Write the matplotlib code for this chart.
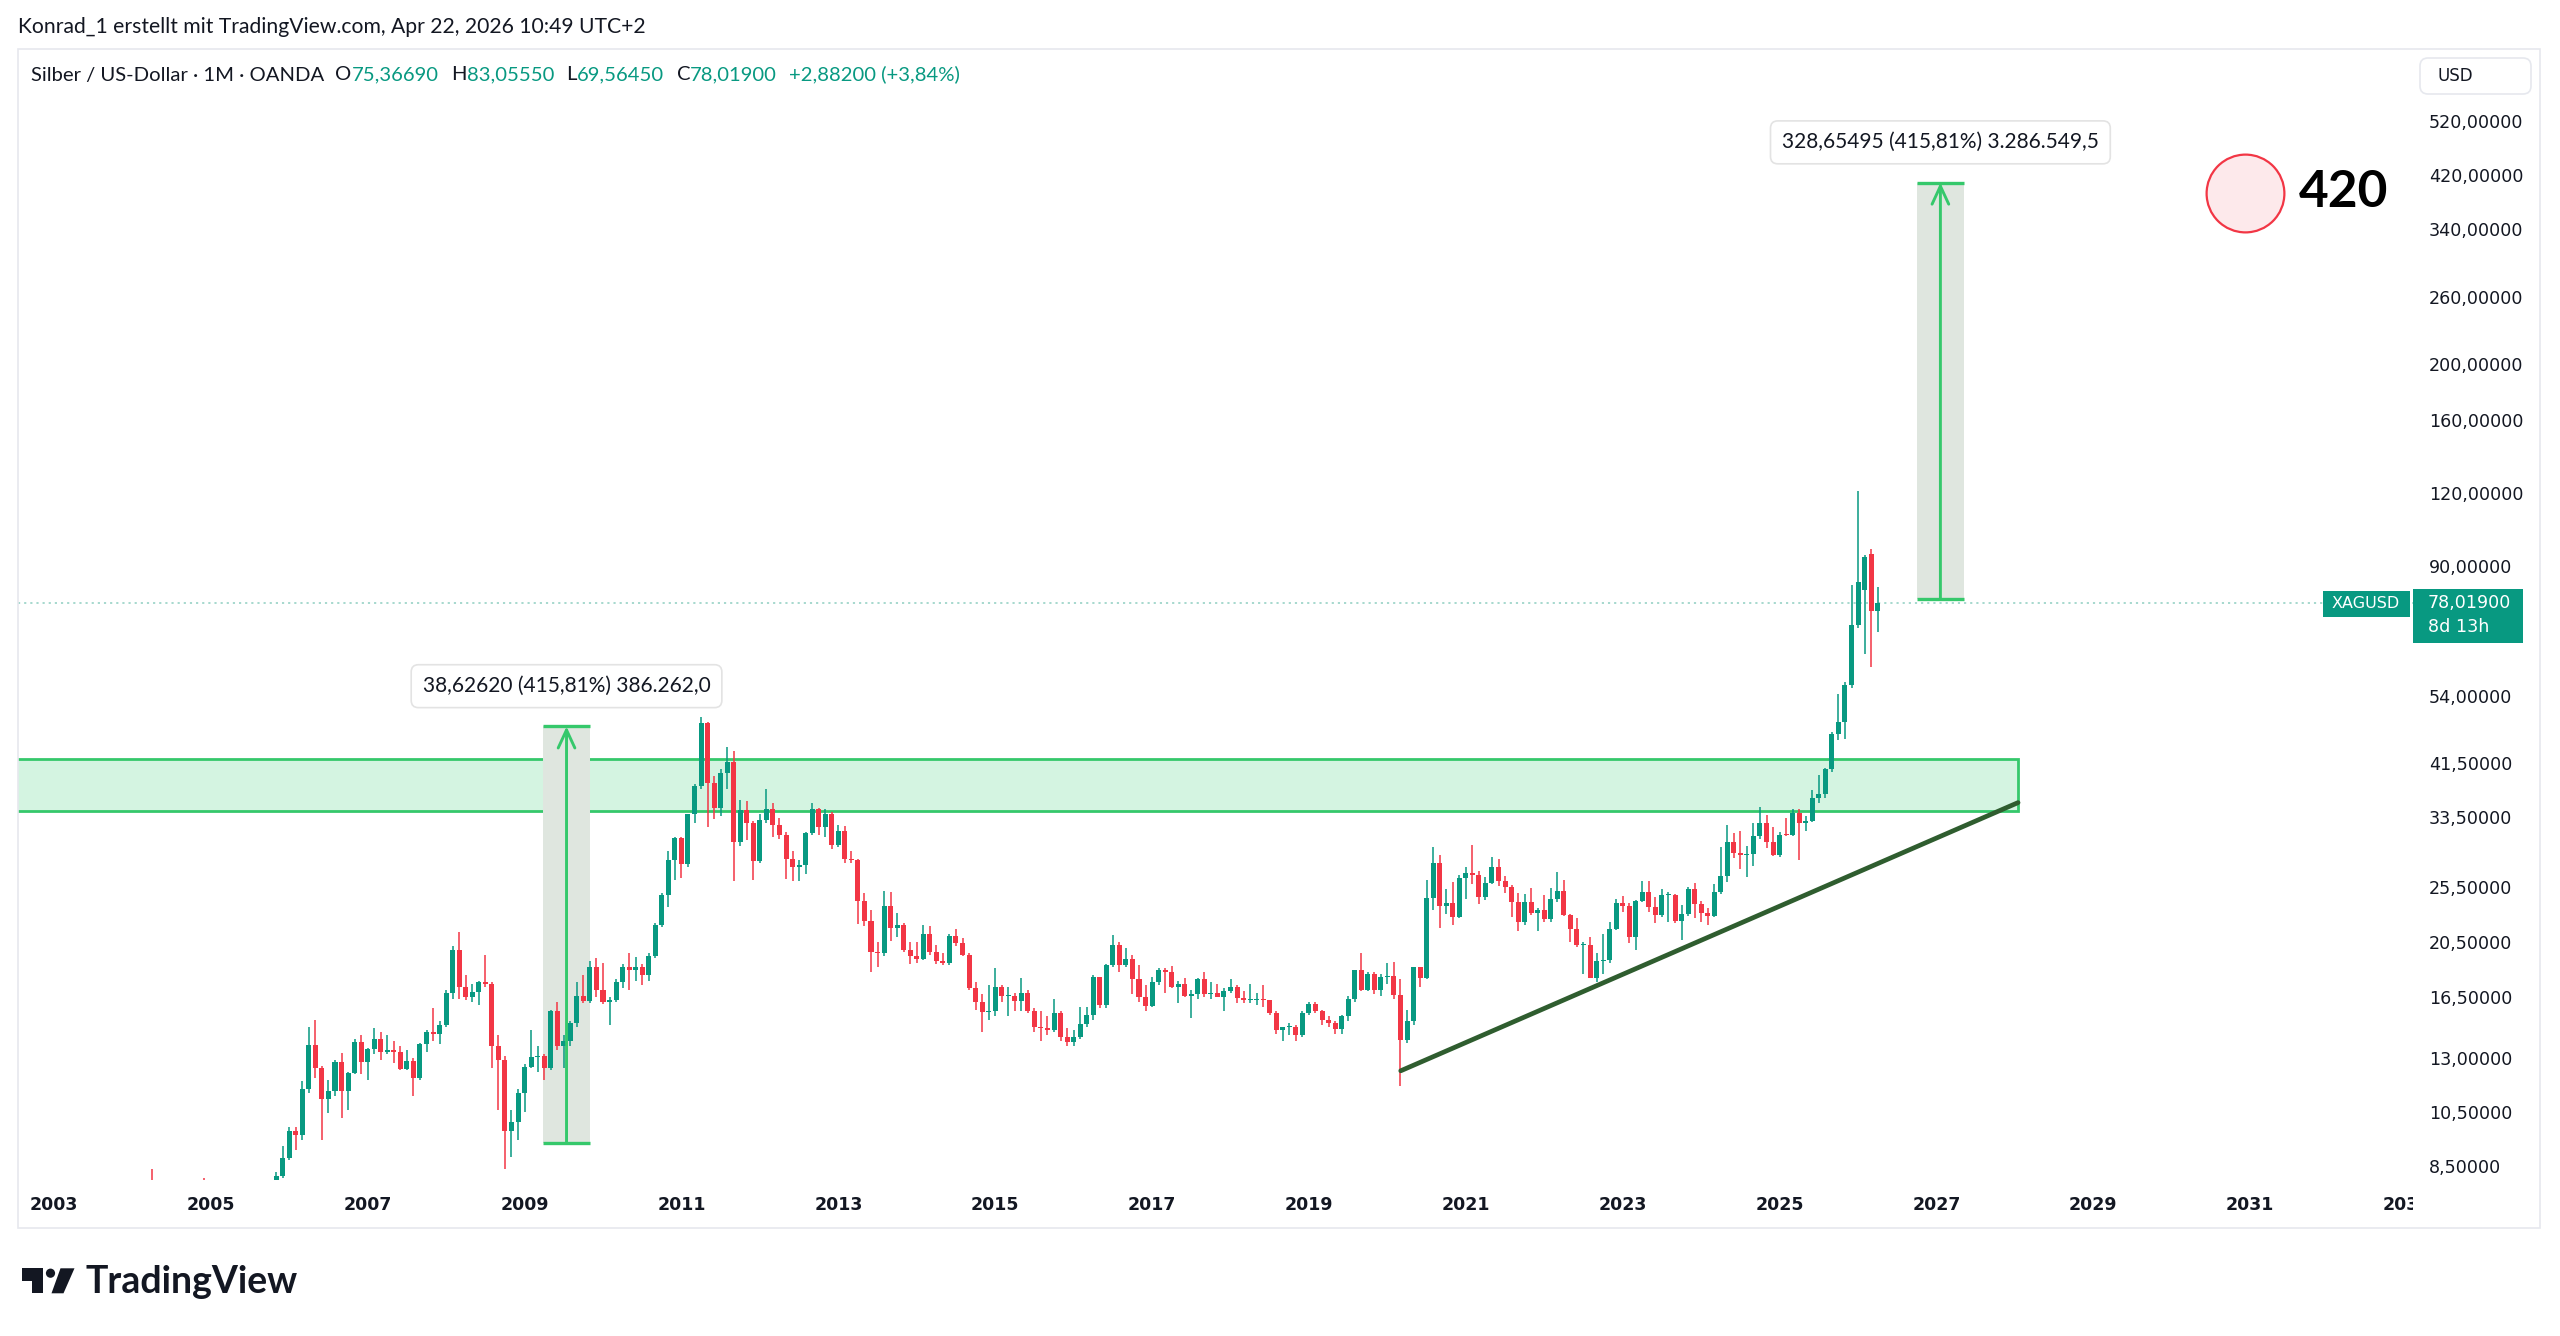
# Silber / US-Dollar, Monatskerzen (TradingView-Nachbau)
import numpy as np
import matplotlib
matplotlib.use("Agg")
import matplotlib.pyplot as plt
from matplotlib.patches import Rectangle, Polygon, Circle, FancyBboxPatch
from matplotlib.ticker import FixedLocator, NullLocator

plt.rcParams['font.family'] = ['Lato', 'DejaVu Sans']

# --- Daten: Monatskerzen Jan 2004 .. Apr 2026 (eine Zeile = ein Jahr) ---
first_year = 2004
opens = [
    5.96, 6.32, 6.70, 7.95, 6.10, 6.07, 5.86, 6.60, 6.76, 6.98, 7.28, 7.50,
    6.82, 6.70, 7.40, 7.10, 6.95, 7.35, 7.05, 7.13, 6.85, 7.53, 7.75, 8.15,
    8.75, 9.74, 9.60, 11.48, 13.67, 12.49, 11.04, 11.40, 12.80, 11.40, 12.24, 13.85,
    12.80, 13.44, 14.00, 13.30, 13.40, 13.30, 12.45, 12.85, 12.00, 13.75, 14.40, 14.30,
    14.80, 16.80, 19.85, 17.20, 16.50, 16.85, 17.50, 17.40, 13.60, 12.90, 9.75, 10.10,
    11.30, 12.55, 13.05, 13.10, 12.50, 15.60, 13.60, 13.90, 14.90, 16.60, 16.25, 18.60,
    16.95, 16.20, 16.35, 17.50, 18.60, 18.40, 18.60, 18.00, 19.40, 21.95, 24.70, 28.30,
    30.90, 27.90, 33.90, 37.90, 48.60, 38.30, 34.80, 39.95, 41.70, 30.40, 34.50, 32.80,
    28.20, 33.20, 34.60, 32.50, 31.20, 28.40, 27.50, 27.80, 31.50, 34.60, 32.20, 33.90,
    30.00, 31.80, 28.40, 28.30, 24.10, 22.30, 19.70, 19.65, 23.60, 21.70, 21.90, 19.85,
    19.40, 19.15, 21.20, 19.70, 19.05, 18.90, 21.00, 20.40, 19.45, 17.10, 16.20, 15.55,
    15.60, 17.20, 16.60, 16.60, 16.25, 16.80, 15.60, 14.70, 14.60, 14.50, 15.50, 14.10,
    13.85, 14.10, 14.85, 15.40, 17.85, 16.00, 18.70, 20.30, 18.70, 19.20, 17.70, 16.50,
    15.95, 17.50, 18.40, 18.20, 17.20, 17.40, 16.60, 16.70, 17.70, 16.70, 16.75, 16.50,
    16.90, 17.20, 16.45, 16.30, 16.30, 16.40, 16.30, 15.50, 14.50, 14.65, 14.70, 14.20,
    15.50, 16.05, 15.60, 15.10, 14.90, 14.55, 15.30, 16.40, 18.35, 17.00, 18.10, 16.95,
    17.85, 17.95, 16.65, 13.95, 15.00, 18.55, 17.80, 24.40, 28.00, 23.60, 23.90, 22.60,
    26.40, 26.90, 26.70, 24.50, 25.90, 27.50, 26.10, 25.50, 24.00, 22.20, 24.00, 23.00,
    23.30, 22.45, 24.30, 25.10, 22.80, 21.60, 20.30, 20.30, 17.80, 19.00, 19.10, 21.60,
    23.95, 23.60, 20.90, 24.10, 25.00, 23.50, 22.80, 24.70, 24.70, 22.30, 22.90, 25.30,
    23.80, 23.00, 22.70, 24.95, 26.60, 30.40, 29.15, 28.90, 28.95, 31.10, 32.70, 30.40,
    28.90, 31.30, 31.20, 34.10, 32.70, 33.00, 36.10, 36.70, 40.50, 46.60, 48.70, 56.40,
    71.40, 82.00, 94.50, 75.3669,
]
highs = [
    6.50, 6.85, 8.00, 8.40, 6.30, 6.30, 6.80, 6.90, 7.00, 7.40, 7.75, 8.10,
    6.90, 7.50, 7.60, 7.35, 7.45, 7.50, 7.30, 7.20, 7.60, 7.75, 8.30, 9.20,
    9.90, 9.90, 11.85, 14.70, 15.10, 12.60, 11.90, 12.90, 13.25, 12.30, 14.00, 14.20,
    13.50, 14.60, 14.40, 14.20, 13.90, 13.60, 13.40, 13.00, 13.80, 14.50, 15.80, 15.00,
    17.00, 20.15, 21.30, 18.00, 17.40, 17.60, 19.50, 17.50, 14.20, 13.10, 10.60, 11.50,
    12.70, 14.50, 13.60, 13.20, 15.70, 16.20, 14.20, 15.00, 17.50, 18.00, 19.00, 19.25,
    18.85, 16.50, 17.70, 18.80, 19.60, 19.30, 18.80, 19.60, 22.10, 24.85, 29.35, 31.00,
    31.05, 34.00, 38.20, 49.80, 48.70, 39.40, 40.50, 44.20, 43.50, 35.90, 35.70, 33.00,
    34.00, 37.50, 35.40, 33.40, 31.60, 29.30, 28.30, 31.60, 35.40, 34.80, 34.60, 34.20,
    32.50, 32.40, 29.30, 28.40, 24.90, 23.30, 20.50, 25.10, 25.00, 23.00, 22.10, 20.50,
    20.50, 21.95, 21.80, 20.25, 19.60, 21.20, 21.60, 20.80, 19.60, 17.50, 16.70, 17.30,
    18.50, 17.30, 17.20, 16.80, 17.80, 16.95, 15.80, 15.60, 15.30, 16.40, 15.60, 14.60,
    14.50, 15.90, 15.90, 18.00, 17.90, 18.80, 21.10, 20.50, 20.00, 19.50, 18.70, 17.30,
    17.90, 18.50, 18.50, 18.65, 17.60, 17.80, 16.95, 17.80, 18.20, 17.50, 17.40, 17.10,
    17.70, 17.30, 16.90, 17.35, 16.80, 17.30, 16.30, 15.60, 14.70, 14.90, 14.80, 15.60,
    16.20, 16.20, 15.70, 15.30, 15.00, 15.40, 16.60, 18.40, 19.60, 18.20, 18.20, 18.10,
    18.90, 18.95, 17.70, 15.70, 18.60, 18.60, 26.20, 29.85, 28.90, 25.30, 26.00, 26.70,
    27.60, 30.00, 27.10, 26.50, 28.70, 28.40, 26.60, 25.70, 24.90, 24.80, 25.40, 23.40,
    24.70, 25.40, 27.00, 26.20, 22.90, 22.50, 20.50, 20.90, 19.60, 21.20, 22.20, 24.30,
    24.60, 23.95, 24.20, 26.10, 26.10, 24.50, 25.30, 25.00, 24.80, 23.70, 25.50, 25.90,
    24.10, 23.40, 25.80, 29.80, 32.50, 31.50, 31.80, 29.90, 32.70, 34.90, 33.80, 32.30,
    31.60, 33.40, 34.60, 34.60, 33.70, 37.30, 39.50, 40.70, 46.90, 54.50, 57.00, 83.60,
    121.00, 94.00, 96.20, 83.0555,
]
lows = [
    5.90, 6.20, 6.65, 5.95, 5.50, 5.60, 5.80, 6.30, 6.10, 6.85, 7.25, 6.45,
    6.35, 6.60, 6.95, 6.75, 6.85, 6.90, 6.90, 6.75, 6.80, 7.40, 7.60, 8.10,
    8.70, 9.05, 9.40, 11.30, 12.00, 9.40, 10.45, 11.20, 10.25, 10.60, 12.20, 12.20,
    11.90, 13.20, 12.90, 13.20, 12.75, 12.40, 12.40, 11.20, 11.90, 13.30, 13.90, 13.75,
    14.65, 16.40, 16.40, 16.30, 16.20, 16.00, 17.20, 12.50, 10.60, 8.40, 8.80, 9.40,
    10.50, 12.50, 12.30, 11.90, 12.40, 13.40, 12.50, 13.60, 14.70, 16.10, 16.10, 16.50,
    16.05, 14.80, 16.20, 17.10, 17.00, 17.60, 17.30, 17.60, 19.25, 21.75, 23.50, 26.20,
    26.40, 27.60, 32.70, 37.50, 32.30, 33.30, 33.70, 37.50, 26.10, 29.90, 30.60, 26.20,
    28.00, 32.80, 31.00, 30.80, 26.30, 26.10, 26.10, 26.80, 31.20, 31.30, 31.00, 29.60,
    29.80, 28.00, 28.00, 22.00, 21.80, 18.20, 18.60, 19.40, 20.60, 20.90, 19.70, 18.80,
    18.90, 19.10, 19.50, 18.80, 18.70, 18.70, 20.20, 19.40, 16.95, 15.70, 14.40, 15.10,
    15.30, 16.20, 15.30, 15.60, 15.60, 15.50, 14.40, 13.90, 14.20, 14.40, 13.90, 13.60,
    13.60, 14.00, 14.70, 15.10, 15.80, 15.80, 18.60, 18.20, 18.60, 16.70, 16.20, 15.60,
    15.90, 17.30, 16.80, 17.10, 16.10, 16.50, 15.20, 16.40, 16.50, 16.40, 16.50, 15.60,
    16.80, 16.10, 16.10, 16.10, 16.00, 15.90, 15.40, 14.30, 13.90, 14.20, 13.90, 14.10,
    15.40, 15.50, 14.80, 14.70, 14.30, 14.30, 15.00, 16.20, 16.90, 16.90, 16.70, 16.60,
    17.40, 16.40, 11.65, 13.80, 14.80, 17.20, 17.75, 23.30, 21.70, 22.90, 21.90, 22.50,
    24.30, 25.80, 23.80, 24.20, 25.80, 25.60, 24.90, 22.60, 21.40, 21.90, 22.80, 21.40,
    22.20, 22.20, 24.00, 22.70, 20.50, 20.10, 18.10, 17.80, 17.55, 18.10, 18.90, 21.50,
    23.10, 20.40, 19.90, 24.00, 23.10, 22.10, 22.60, 22.20, 22.10, 20.70, 22.70, 22.50,
    22.20, 21.90, 22.60, 24.80, 26.00, 28.60, 27.30, 26.45, 27.70, 30.80, 29.70, 28.80,
    28.70, 31.10, 31.10, 28.30, 31.70, 32.90, 35.50, 36.20, 40.00, 45.50, 45.60, 55.80,
    70.50, 63.70, 60.60, 69.5645,
]
closes = [
    6.32, 6.70, 7.95, 6.10, 6.07, 5.86, 6.60, 6.76, 6.98, 7.28, 7.50, 6.82,
    6.70, 7.40, 7.10, 6.95, 7.35, 7.05, 7.13, 6.85, 7.53, 7.75, 8.15, 8.75,
    9.74, 9.60, 11.48, 13.67, 12.49, 11.04, 11.40, 12.80, 11.40, 12.24, 13.85, 12.80,
    13.44, 14.00, 13.30, 13.40, 13.30, 12.45, 12.85, 12.00, 13.75, 14.40, 14.30, 14.80,
    16.80, 19.85, 17.20, 16.50, 16.85, 17.50, 17.40, 13.60, 12.90, 9.75, 10.10, 11.30,
    12.55, 13.05, 13.10, 12.50, 15.60, 13.60, 13.90, 14.90, 16.60, 16.25, 18.60, 16.95,
    16.20, 16.35, 17.50, 18.60, 18.40, 18.60, 18.00, 19.40, 21.95, 24.70, 28.30, 30.90,
    27.90, 33.90, 37.90, 48.60, 38.30, 34.80, 39.95, 41.70, 30.40, 34.50, 32.80, 28.20,
    33.20, 34.60, 32.50, 31.20, 28.40, 27.50, 27.80, 31.50, 34.60, 32.20, 33.90, 30.00,
    31.80, 28.40, 28.30, 24.10, 22.30, 19.70, 19.65, 23.60, 21.70, 21.90, 19.85, 19.40,
    19.15, 21.20, 19.70, 19.05, 18.90, 21.00, 20.40, 19.45, 17.10, 16.20, 15.55, 15.60,
    17.20, 16.60, 16.60, 16.25, 16.80, 15.60, 14.70, 14.60, 14.50, 15.50, 14.10, 13.85,
    14.10, 14.85, 15.40, 17.85, 16.00, 18.70, 20.30, 18.70, 19.20, 17.70, 16.50, 15.95,
    17.50, 18.40, 18.20, 17.20, 17.40, 16.60, 16.70, 17.70, 16.70, 16.75, 16.50, 16.90,
    17.20, 16.45, 16.30, 16.30, 16.40, 16.30, 15.50, 14.50, 14.65, 14.70, 14.20, 15.50,
    16.05, 15.60, 15.10, 14.90, 14.55, 15.30, 16.40, 18.35, 17.00, 18.10, 16.95, 17.85,
    17.95, 16.65, 13.95, 15.00, 18.55, 17.80, 24.40, 28.00, 23.60, 23.90, 22.60, 26.40,
    26.90, 26.70, 24.50, 25.90, 27.50, 26.10, 25.50, 24.00, 22.20, 24.00, 23.00, 23.30,
    22.45, 24.30, 25.10, 22.80, 21.60, 20.30, 20.30, 17.80, 19.00, 19.10, 21.60, 23.95,
    23.60, 20.90, 24.10, 25.00, 23.50, 22.80, 24.70, 24.70, 22.30, 22.90, 25.30, 23.80,
    23.00, 22.70, 24.95, 26.60, 30.40, 29.15, 28.90, 28.95, 31.10, 32.70, 30.40, 28.90,
    31.30, 31.20, 34.10, 32.70, 33.00, 36.10, 36.70, 40.50, 46.60, 48.70, 56.40, 71.40,
    84.50, 93.20, 75.3669, 78.019,
]

# Achsen
price_ticks = [520, 420, 340, 260, 200, 160, 120, 90, 54, 41.5, 33.5, 25.5, 20.5, 16.5, 13, 10.5, 8.5]
year_ticks = list(range(2003, 2035, 2))
last_price = 78.019

# Zeichnungen
zone_lo, zone_hi, zone_end = 34.4, 42.2, 2028.04
trend_x = [2020.17, 2028.04]
trend_y = [12.35, 35.5]
meas1 = dict(x0=2009.24, x1=2009.83, base=9.289, top=47.915, label="38,62620 (415,81%) 386.262,0")
meas2 = dict(x0=2026.75, x1=2027.35, base=79.04, top=407.7, label="328,65495 (415,81%) 3.286.549,5")
target_x, target_y, target_text = 2030.93, 391.7, "420"

GREEN = "#089981"
RED = "#f23645"
TEXT = "#131722"
LINE_GREEN = "#35c86b"

W, H = 2560, 1336
fig = plt.figure(figsize=(W / 100, H / 100), dpi=100)
fig.patch.set_facecolor("white")

# Hauptfenster (Pixelgrenzen aus dem Screenshot)
px_l, px_r, px_t, px_b = 18, 2413, 49, 1180
ax = fig.add_axes([px_l / W, 1 - px_b / H, (px_r - px_l) / W, (px_b - px_t) / H])
ax.set_facecolor("none")
ax.set_yscale("log")
ax.set_xlim(2002.542, 2033.075)
ax.set_ylim(8.034, 690)
for s in ax.spines.values():
    s.set_visible(False)

# Kerzen
n = len(closes)
x = first_year + np.arange(n) / 12.0
o = np.array(opens)
c = np.array(closes)
hi = np.array(highs)
lo = np.array(lows)
col = np.where(c >= o, GREEN, RED)
body_lo = np.minimum(o, c)
body_h = np.maximum(np.abs(c - o), body_lo * 0.004)
ax.vlines(x, lo, hi, colors=col, lw=1.1, zorder=3)
ax.bar(x, body_h, bottom=body_lo, width=0.064, color=col, linewidth=0, zorder=4)

# Zone
ax.add_patch(Rectangle((2000, zone_lo), zone_end - 2000, zone_hi - zone_lo,
                       facecolor="#d4f4e1", edgecolor=LINE_GREEN, lw=2.0, zorder=2))
# Trendlinie
ax.plot(trend_x, trend_y, color="#2f5d2f", lw=3.4, solid_capstyle="round", zorder=5)
# letzte Kurslinie
ax.axhline(last_price, color="#9fd6ca", lw=1.3, ls=(0, (1.2, 2.2)), zorder=1)

# Messwerkzeuge
for m in (meas1, meas2):
    cx = (m["x0"] + m["x1"]) / 2
    ax.add_patch(Rectangle((m["x0"], m["base"]), m["x1"] - m["x0"], m["top"] - m["base"],
                           facecolor="#dfe6df", edgecolor="none", zorder=2))
    ax.hlines([m["base"], m["top"]], m["x0"], m["x1"], colors=LINE_GREEN, lw=2.4, zorder=6)
    ax.annotate("", xy=(cx, m["top"]), xytext=(cx, m["base"]),
                arrowprops=dict(arrowstyle="->,head_length=0.65,head_width=0.3", color=LINE_GREEN,
                                lw=2.1, shrinkA=0, shrinkB=0, mutation_scale=20), zorder=6)
    ax.annotate(m["label"], xy=(cx, m["top"]), xytext=(0, 29), textcoords="offset points",
                ha="center", va="center", fontsize=15, color=TEXT, zorder=7,
                bbox=dict(boxstyle="round,pad=0.55,rounding_size=0.35", fc="white", ec="#e3e3e3", lw=1.2))

# Kreis + 420
ax.scatter([target_x], [target_y], s=56 ** 2, facecolor="#fde9eb", edgecolor=RED, lw=1.6, zorder=6)
ax.text(target_x + 0.69, target_y, target_text, fontsize=37, fontweight="bold", color="#000000",
        ha="left", va="center", zorder=7)

# Preisachse rechts
ax.yaxis.tick_right()
ax.yaxis.set_major_locator(FixedLocator(price_ticks))
ax.yaxis.set_minor_locator(NullLocator())
ax.set_yticklabels([f"{v:.5f}".replace(".", ",") for v in price_ticks])
ax.tick_params(axis="y", length=0, pad=11.5, labelsize=12.6, labelcolor=TEXT)
for t in ax.get_yticklabels():
    t.set_family("DejaVu Sans")
ax.set_xticks([])

# Zeitachse (mit Abschneiden am rechten Rand)
ax_t = fig.add_axes([px_l / W, 1 - 1228 / H, (px_r - px_l) / W, (1228 - px_b) / H])
ax_t.set_xlim(ax.get_xlim())
ax_t.set_ylim(0, 1)
ax_t.axis("off")
for yr in year_ticks:
    ax_t.text(yr, 0.47, str(yr), ha="center", va="center", fontsize=12.5, fontweight="bold",
              family="DejaVu Sans", color=TEXT, clip_on=True)

# Overlay in Pixelkoordinaten
ov = fig.add_axes([0, 0, 1, 1], zorder=10)
ov.set_xlim(0, W)
ov.set_ylim(H, 0)
ov.axis("off")

ov.add_patch(Rectangle((18, 49), 2540 - 18, 1228 - 49, fill=False, edgecolor="#e6e8ee", lw=1.2))
ov.text(18, 27, "Konrad_1 erstellt mit TradingView.com, Apr 22, 2026 10:49 UTC+2",
        fontsize=15.2, color=TEXT, va="center", ha="left")

# Legende mit farbigen Werten
t0 = ov.text(31, 75, "Silber / US-Dollar · 1M · OANDA", fontsize=14.6, color=TEXT, va="center", ha="left")
parts = [("O", TEXT, 8), ("75,36690", GREEN, 0), ("H", TEXT, 9), ("83,05550", GREEN, 0),
         ("L", TEXT, 9), ("69,56450", GREEN, 0), ("C", TEXT, 9), ("78,01900", GREEN, 0),
         ("+2,88200 (+3,84%)", GREEN, 9)]
prev = t0
for txt, colr, gap in parts:
    prev = ov.annotate(txt, xy=(1, 0), xycoords=prev, xytext=(gap, 0), textcoords="offset points",
                       fontsize=14.6, color=colr, va="bottom", ha="left")

# USD-Knopf
ov.add_patch(FancyBboxPatch((2420, 58), 111, 36, boxstyle="round,pad=0,rounding_size=8",
                            fc="white", ec="#e6e8ee", lw=1.2))
ov.text(2455, 76, "USD", fontsize=12, color=TEXT, ha="center", va="center", family="DejaVu Sans")

# Kursmarke
ov.add_patch(Rectangle((2323, 591), 87, 26, facecolor=GREEN, edgecolor="none"))
ov.text(2366, 604, "XAGUSD", fontsize=11.5, color="white", ha="center", va="center", family="DejaVu Sans")
ov.add_patch(Rectangle((2413, 589), 110, 54, facecolor=GREEN, edgecolor="none"))
ov.text(2428, 603, "78,01900", fontsize=12.6, color="white", ha="left", va="center", family="DejaVu Sans")
ov.text(2428, 627, "8d 13h", fontsize=12.6, color="white", ha="left", va="center", family="DejaVu Sans")

# TradingView-Logo
ov.add_patch(Polygon([(21.7, 1268.3), (43.3, 1268.3), (43.3, 1293.3), (32.3, 1293.3),
                      (32.3, 1280.5), (21.7, 1280.5)], closed=True, fc=TEXT, ec="none"))
ov.add_patch(Circle((50.5, 1273.2), 4.6, fc=TEXT, ec="none"))
ov.add_patch(Polygon([(60.5, 1268.3), (74.5, 1268.3), (63.5, 1293.3), (51.5, 1293.3)],
                     closed=True, fc=TEXT, ec="none"))
ov.text(86, 1293.3, "TradingView", fontsize=27, fontweight="bold", color=TEXT, ha="left", va="baseline")

fig.savefig("out.png", dpi=100, facecolor="white")
